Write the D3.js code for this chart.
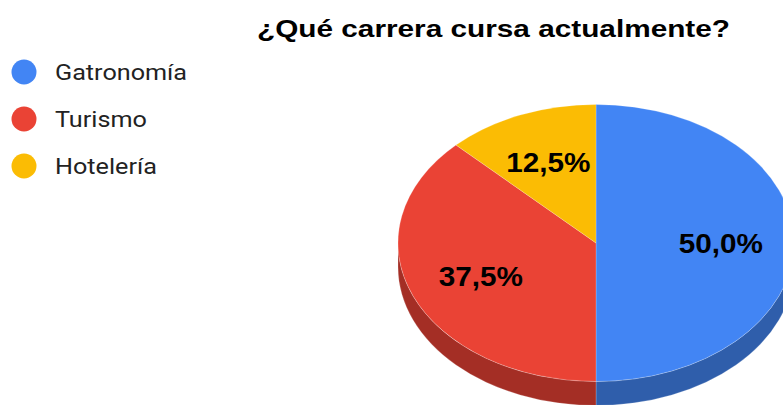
<!DOCTYPE html>
<html>
<head>
<meta charset="utf-8">
<script src="https://cdn.jsdelivr.net/npm/d3@7"></script>
<style>
  body { margin: 0; background: #fff; }
  svg { display: block; }
</style>
</head>
<body>
<div id="chart"></div>
<script>
// Data
const categories = ["Gatronomía", "Turismo", "Hotelería"];
const counts = [4, 3, 1];
const colors = ["#4285f4", "#ea4335", "#fbbc04"];
const sideColors = ["#2f5eab", "#a42e25", "#b08403"];
const title = "¿Qué carrera cursa actualmente?";

const width = 783, height = 405;
const cx = 596, cy = 243;   // pie centre
const rx = 198, ry = 138.5; // ellipse radii
const depth = 24;           // thickness of the 3D wall
const stretch = 1.12;       // the source text is a bit wide

const svg = d3.select("#chart").append("svg")
    .attr("width", width)
    .attr("height", height);

// Title
svg.append("text")
    .attr("x", 493.5)
    .attr("y", 37)
    .attr("text-anchor", "middle")
    .attr("font-family", "Liberation Sans, Arial, sans-serif")
    .attr("font-weight", "bold")
    .attr("font-size", 24)
    .attr("textLength", 473)
    .attr("lengthAdjust", "spacingAndGlyphs")
    .attr("fill", "#000")
    .text(title);

// Legend
const legend = svg.append("g").selectAll("g")
    .data(categories)
    .join("g")
    .attr("transform", (d, i) => `translate(24,${72 + i * 47})`);

legend.append("circle")
    .attr("r", 12.5)
    .attr("fill", (d, i) => colors[i]);

legend.append("text")
    .attr("transform", `translate(31,0) scale(${stretch},1)`)
    .attr("dy", "0.36em")
    .attr("font-family", "Roboto, Arial, sans-serif")
    .attr("font-size", 22.5)
    .attr("fill", "#222")
    .text(d => d);

// Pie layout (d3 angles: 0 at 12 o'clock, clockwise)
const pie = d3.pie().sort(null).value(d => d);
const slices = pie(counts);
const total = d3.sum(counts);

// project an angle onto the ellipse
const px = (a, k = 1) => cx + Math.sin(a) * rx * k;
const py = (a, k = 1) => cy - Math.cos(a) * ry * k;

function topPath(d) {
    const large = d.endAngle - d.startAngle > Math.PI ? 1 : 0;
    return `M${cx},${cy}L${px(d.startAngle)},${py(d.startAngle)}` +
        `A${rx},${ry} 0 ${large} 1 ${px(d.endAngle)},${py(d.endAngle)}Z`;
}

function sidePath(d) {
    // only the front half (PI/2 .. 3PI/2) of the wall is visible
    const a0 = Math.max(d.startAngle, Math.PI / 2);
    const a1 = Math.min(d.endAngle, Math.PI * 1.5);
    if (a1 <= a0) return null;
    return `M${px(a0)},${py(a0)}` +
        `A${rx},${ry} 0 0 1 ${px(a1)},${py(a1)}` +
        `L${px(a1)},${py(a1) + depth}` +
        `A${rx},${ry} 0 0 0 ${px(a0)},${py(a0) + depth}Z`;
}

const pieG = svg.append("g");

// walls first
pieG.selectAll("path.side")
    .data(slices.filter(d => sidePath(d)))
    .join("path")
    .attr("class", "side")
    .attr("d", sidePath)
    .attr("fill", d => sideColors[d.index])
    .attr("stroke", "rgba(255,255,255,0.35)")
    .attr("stroke-width", 0.6);

// tops
pieG.selectAll("path.top")
    .data(slices)
    .join("path")
    .attr("class", "top")
    .attr("d", topPath)
    .attr("fill", d => colors[d.index])
    .attr("stroke", "rgba(255,255,255,0.35)")
    .attr("stroke-width", 0.6);

// slice labels
const fmt = v => (v * 100).toFixed(1).replace(".", ",") + "%";
pieG.selectAll("text")
    .data(slices)
    .join("text")
    .attr("transform", d => {
        const a = (d.startAngle + d.endAngle) / 2;
        return `translate(${px(a, 0.63)},${py(a, 0.63)}) scale(1.1,1)`;
    })
    .attr("dy", "0.36em")
    .attr("text-anchor", "middle")
    .attr("font-family", "Liberation Sans, Arial, sans-serif")
    .attr("font-weight", "bold")
    .attr("font-size", 27)
    .attr("fill", "#000")
    .text(d => fmt(d.value / total));
</script>
</body>
</html>
